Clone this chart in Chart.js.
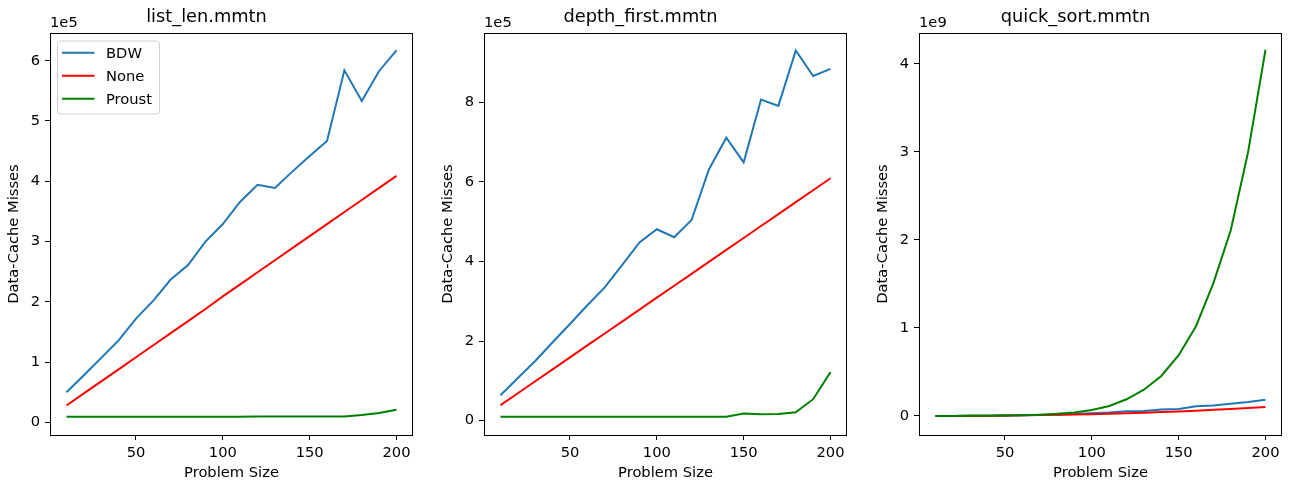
<!DOCTYPE html>
<html>
<head>
<meta charset="utf-8">
<script src="https://cdn.jsdelivr.net/npm/chart.js@4.4.1/dist/chart.umd.min.js"></script>
<style>
  html, body { margin: 0; padding: 0; background: #fff; }
  #wrap { position: relative; width: 1289px; height: 487px; overflow: hidden; }
  .panel { position: absolute; top: 0; width: 420px; height: 487px; }
</style>
</head>
<body>
<div id="wrap">
  <div class="panel" style="left:0px"><canvas id="c1" width="420" height="487"></canvas></div>
  <div class="panel" style="left:434px"><canvas id="c2" width="420" height="487"></canvas></div>
  <div class="panel" style="left:869px"><canvas id="c3" width="420" height="487"></canvas></div>
</div>
<script>
// problem sizes shared by all three panels
const problemSizes = [10, 20, 30, 40, 50, 60, 70, 80, 90, 100, 110, 120, 130, 140, 150, 160, 170, 180, 190, 200];
const seriesNames = ['BDW', 'None', 'Proust'];
const seriesColors = ['#1f77b4', '#ff0000', '#008000'];
const xTicks = [50, 100, 150, 200];

// list_len.mmtn
const listLenBDW = [50000, 78000, 107000, 136000, 172000, 202000, 237000, 261000, 300000, 329000,
  366000, 394000, 389000, 416000, 442000, 467000, 584000, 533000, 583000, 617000];
const listLenNone = [28000, 48000, 68000, 88000, 108000, 128000, 148000, 168000, 188000, 209000,
  229000, 249000, 269000, 289000, 309000, 329000, 349000, 369000, 389000, 409000];
const listLenProust = [9400, 9400, 9400, 9400, 9400, 9400, 9400, 9400, 9400, 9400,
  9400, 9500, 9500, 9500, 9500, 9500, 9600, 12000, 15500, 21000];
const listLenTicks = [0, 1, 2, 3, 4, 5, 6];   // x 1e5

// depth_first.mmtn
const depthFirstBDW = [64000, 107000, 150000, 197000, 243000, 290000, 335000, 391000, 448000, 481000,
  461000, 504000, 631000, 711000, 649000, 807000, 791000, 930000, 866000, 884000];
const depthFirstNone = [39000, 69000, 99000, 129000, 159000, 189000, 219000, 249000, 279000, 309000,
  339000, 369000, 399000, 429000, 459000, 489000, 519000, 549000, 579000, 609000];
const depthFirstProust = [10000, 10000, 10000, 10000, 10000, 10000, 10000, 10000, 10000, 10000,
  10000, 10000, 10000, 10000, 18000, 16000, 17000, 21000, 54000, 122000];
const depthFirstTicks = [0, 2, 4, 6, 8];      // x 1e5

// quick_sort.mmtn
const quickSortBDW = [0.3e6, 1e6, 2e6, 3e6, 5e6, 7e6, 10e6, 15e6, 22e6, 30e6,
  40e6, 55e6, 58e6, 75e6, 80e6, 110e6, 118e6, 140e6, 160e6, 185e6];
const quickSortNone = [0.3e6, 1e6, 2e6, 3e6, 5e6, 7e6, 10e6, 13e6, 17e6, 21e6,
  26e6, 32e6, 38e6, 45e6, 52e6, 60e6, 70e6, 80e6, 90e6, 102e6];
const quickSortProust = [0.3e6, 0.7e6, 1.5e6, 3e6, 5e6, 9e6, 15e6, 25e6, 40e6, 68e6,
  114e6, 190e6, 298e6, 455e6, 690e6, 1020e6, 1510e6, 2110e6, 3000e6, 4160e6];
const quickSortTicks = [0, 1, 2, 3, 4];       // x 1e9

const FONT = "'DejaVu Sans', sans-serif";
const SMALL = 14.7;

// box around the plot, "1e5" offset label, optional legend
const mplDecor = {
  id: 'mplDecor',
  afterDraw(chart, args, opts) {
    const ctx = chart.ctx;
    const a = chart.chartArea;
    ctx.save();
    ctx.strokeStyle = '#000';
    ctx.lineWidth = 1;
    ctx.strokeRect(Math.round(a.left) + 0.5, Math.round(a.top) + 0.5,
      Math.round(a.right - a.left) - 1, Math.round(a.bottom - a.top));

    ctx.fillStyle = '#000';
    ctx.font = SMALL + 'px ' + FONT;
    ctx.textAlign = 'left';
    ctx.textBaseline = 'alphabetic';
    ctx.fillText(opts.offsetText, a.left, a.top - 6);

    if (opts.legend) {
      const bx = a.left + 7.5, by = a.top + 8, bw = 102, bh = 73;
      ctx.beginPath();
      ctx.roundRect(bx, by, bw, bh, 3);
      ctx.fillStyle = 'rgba(255,255,255,0.8)';
      ctx.fill();
      ctx.strokeStyle = '#d0d0d0';
      ctx.lineWidth = 1;
      ctx.stroke();
      chart.data.datasets.forEach((ds, i) => {
        const y = by + 11.7 + i * 23;
        ctx.beginPath();
        ctx.moveTo(bx + 4.5, y);
        ctx.lineTo(bx + 37, y);
        ctx.strokeStyle = ds.borderColor;
        ctx.lineWidth = 2;
        ctx.stroke();
        ctx.fillStyle = '#000';
        ctx.textBaseline = 'middle';
        ctx.fillText(ds.label, bx + 48.5, y + 1);
      });
    }
    ctx.restore();
  }
};

function makePanel(id, title, values, yMin, yMax, yTicks, factor, offsetText, legend) {
  const datasets = values.map((v, i) => ({
    label: seriesNames[i],
    data: problemSizes.map((x, j) => ({ x: x, y: v[j] })),
    borderColor: seriesColors[i],
    backgroundColor: seriesColors[i],
    borderWidth: 2,
    pointRadius: 0,
    tension: 0,
    order: 3 - i
  }));
  const tickStyle = { color: '#000', font: { family: FONT, size: SMALL }, padding: 5 };
  const gridStyle = { drawOnChartArea: false, drawTicks: true, tickLength: 5, color: '#000', lineWidth: 1 };

  new Chart(document.getElementById(id), {
    type: 'line',
    data: { datasets: datasets },
    plugins: [mplDecor],
    options: {
      responsive: false,
      animation: false,
      devicePixelRatio: 1,
      layout: { padding: { left: 0, right: 7, top: 0, bottom: 0 } },
      scales: {
        x: {
          type: 'linear',
          min: 0.5,
          max: 209.5,
          grid: gridStyle,
          border: { display: false },
          afterBuildTicks: s => { s.ticks = xTicks.map(v => ({ value: v })); },
          afterFit: s => { s.height = 52; },
          ticks: Object.assign({}, tickStyle, { maxRotation: 0, padding: 4 }),
          title: { display: true, text: 'Problem Size', color: '#000',
            font: { family: FONT, size: SMALL }, padding: { top: 0, bottom: 5.5 } }
        },
        y: {
          type: 'linear',
          min: yMin,
          max: yMax,
          grid: gridStyle,
          border: { display: false },
          afterBuildTicks: s => { s.ticks = yTicks.map(v => ({ value: v * factor })); },
          afterFit: s => { s.width = 50; },
          ticks: Object.assign({}, tickStyle, { callback: v => String(Math.round(v / factor)) }),
          title: { display: true, text: 'Data-Cache Misses', color: '#000',
            font: { family: FONT, size: SMALL }, padding: { top: 5.2, bottom: 0 } }
        }
      },
      plugins: {
        legend: { display: false },
        tooltip: { enabled: false },
        title: {
          display: true,
          text: title,
          color: '#000',
          font: { family: FONT, size: 17.8, weight: 'normal' },
          padding: { top: 6.3, bottom: 5.34 }
        },
        mplDecor: { offsetText: offsetText, legend: legend }
      }
    }
  });
}

makePanel('c1', 'list_len.mmtn', [listLenBDW, listLenNone, listLenProust],
  -21000, 646000, listLenTicks, 1e5, '1e5', true);
makePanel('c2', 'depth_first.mmtn', [depthFirstBDW, depthFirstNone, depthFirstProust],
  -36000, 974000, depthFirstTicks, 1e5, '1e5', false);
makePanel('c3', 'quick_sort.mmtn', [quickSortBDW, quickSortNone, quickSortProust],
  -0.216e9, 4.35e9, quickSortTicks, 1e9, '1e9', false);
</script>
</body>
</html>
